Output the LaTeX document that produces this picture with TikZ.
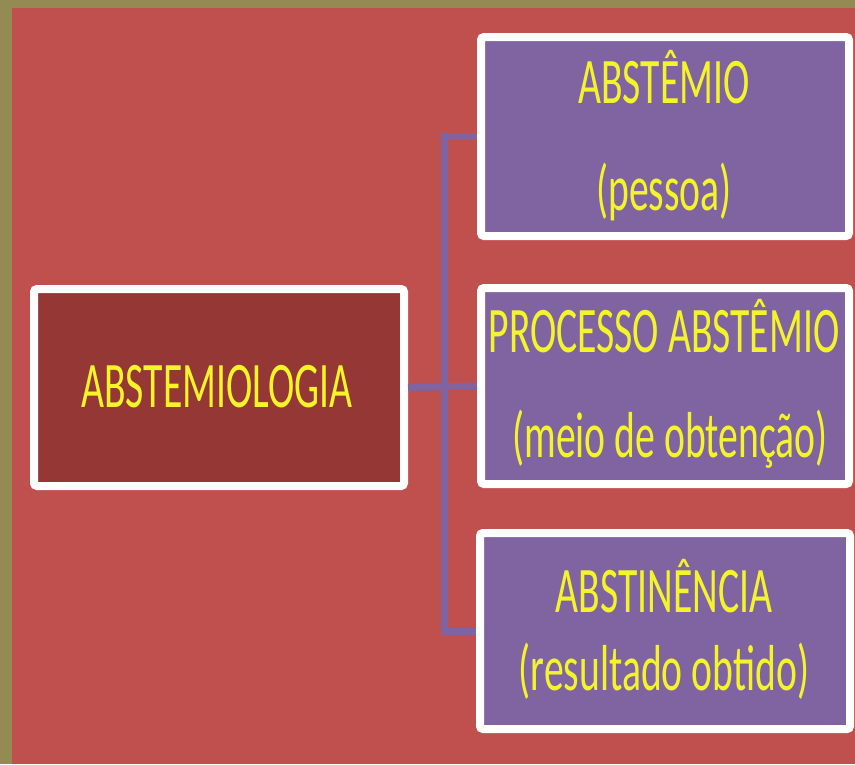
\documentclass[tikz,border=0pt]{standalone}
\usepackage{fontspec}
\setmainfont{Carlito}
\definecolor{olivebg}{HTML}{948A54}
\definecolor{redbg}{HTML}{C0504D}
\definecolor{darkred}{HTML}{953735}
\definecolor{purp}{HTML}{8064A2}
\definecolor{yel}{HTML}{F4F42A}
\tikzset{
  box/.style={draw=white, line width=8pt, rounded corners=3pt, inner sep=0pt, outer sep=4pt},
  lbl/.style={text=yel, anchor=base, inner sep=0pt, font=\fontsize{65}{78}\selectfont},
  conn/.style={draw=purp, line width=7pt}
}
\newcommand{\sq}[1]{\scalebox{0.61}[1]{#1}}
\begin{document}
\begin{tikzpicture}[x=1pt,y=-1pt]
\useasboundingbox (0,0) rectangle (855,764);
\fill[olivebg] (0,0) rectangle (855,764);
\fill[redbg] (12,8) rectangle (855,764);
\node[box, fill=darkred, minimum width=370pt, minimum height=197pt] (left) at (219,387.5) {};
\node[box, fill=purp, minimum width=368pt, minimum height=199pt] (top) at (665,136.5) {};
\node[box, fill=purp, minimum width=368pt, minimum height=196pt] (mid) at (665,386) {};
\node[box, fill=purp, minimum width=370pt, minimum height=196pt] (bot) at (665,631) {};
\coordinate (bus) at (444,0);
\draw[conn] (top.west) -- (top.west -| bus) -- (bot.west -| bus) -- (bot.west);
\draw[conn] (left.east) -- (mid.west);
\node[lbl] (t1) at (664,103) {\sq{ABSTÊMIO}};
\node[lbl] (t2) at (664,210) {\sq{(pessoa)}};
\node[lbl] (m1) at (664,352) {\sq{PROCESSO ABSTÊMIO}};
\node[lbl] (m2) at (670,457) {\sq{(meio de obtenção)}};
\node[lbl] (b1) at (664,612) {\sq{ABSTINÊNCIA}};
\node[lbl] (b2) at (664,690) {\sq{(resultado obtido)}};
\node[lbl] (l1) at (217,407) {\sq{ABSTEMIOLOGIA}};
\end{tikzpicture}
\end{document}
